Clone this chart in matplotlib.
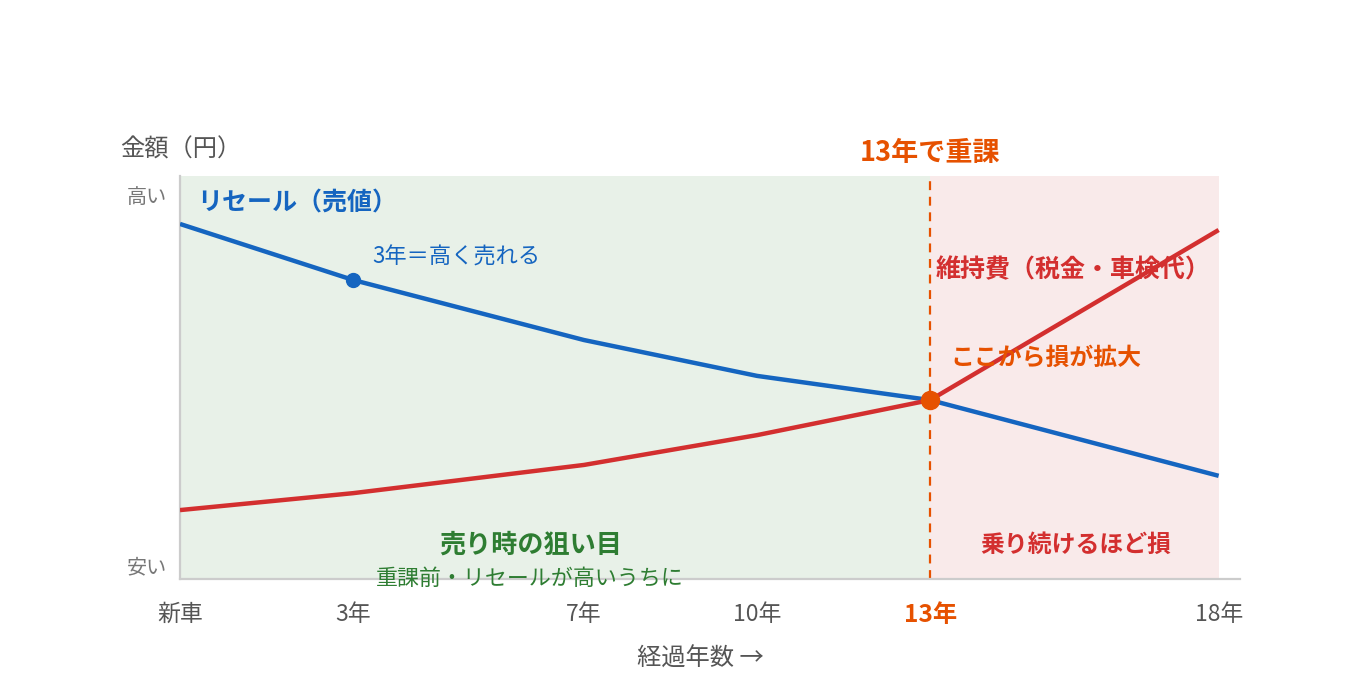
import matplotlib
matplotlib.use("Agg")
import matplotlib.pyplot as plt

plt.rcParams['font.family'] = ['Noto Sans CJK JP', 'DejaVu Sans']

# data (relative amount, 0 = low, 100 = high)
years = [0, 3, 7, 10, 13, 18]
resale = [88.1, 74.2, 59.3, 50.4, 44.4, 25.6]
upkeep = [17.1, 21.3, 28.3, 35.7, 44.4, 86.6]
tick_labels = ['新車', '3年', '7年', '10年', '13年', '18年']
tax_year = 13

BLUE = '#1565c0'
RED = '#d32f2f'
ORANGE = '#e65100'
GREEN = '#2e7d32'
GRAY = '#555555'

fig = plt.figure(figsize=(13.6, 7), dpi=100)
ax = fig.add_axes([180 / 1360, 121 / 700, 1060 / 1360, 403 / 700])
ax.set_xlim(0, 18.37)
ax.set_ylim(0, 100)

# background zones
ax.axvspan(0, tax_year, color='#e8f1e8', zorder=0, lw=0)
ax.axvspan(tax_year, 18, color='#f9eaea', zorder=0, lw=0)
ax.axvline(tax_year, color=ORANGE, lw=1.6, ls=(0, (4, 3)), zorder=1)

# lines
ax.plot(years, resale, color=BLUE, lw=3.2, solid_capstyle='butt', zorder=3)
ax.plot(years, upkeep, color=RED, lw=3.2, solid_capstyle='butt', zorder=4)
ax.plot(years[1], resale[1], 'o', color=BLUE, ms=10, zorder=5)
ax.plot(years[4], resale[4], 'o', color=ORANGE, ms=13, zorder=6)

# spines
for s in ['top', 'right']:
    ax.spines[s].set_visible(False)
for s in ['left', 'bottom']:
    ax.spines[s].set_color('#cccccc')
    ax.spines[s].set_linewidth(1.6)
    ax.spines[s].set_zorder(2)

# ticks
ax.set_xticks(years)
ax.set_xticklabels(tick_labels, fontsize=16.5, color=GRAY)
ax.tick_params(axis='x', length=0, pad=17)
lbl = ax.get_xticklabels()[4]
lbl.set_color(ORANGE)
lbl.set_fontweight('bold')
lbl.set_fontsize(17.5)
ax.set_yticks([95.3, 3.5])
ax.set_yticklabels(['高い', '安い'], fontsize=14.5, color='#777777')
ax.tick_params(axis='y', length=0, pad=9)

# annotations
ax.text(0.29, 93.1, 'リセール（売値）', color=BLUE, fontsize=18, fontweight='bold',
        ha='left', va='center', zorder=7)
ax.text(3.33, 80.0, '3年＝高く売れる', color=BLUE, fontsize=16, ha='left', va='center', zorder=7)
ax.text(13.09, 76.8, '維持費（税金・車検代）', color=RED, fontsize=18, fontweight='bold',
        ha='left', va='center', zorder=2)
ax.text(13.35, 55.0, 'ここから損が拡大', color=ORANGE, fontsize=17.2, fontweight='bold',
        ha='left', va='center', zorder=7)
ax.text(6.07, 8.5, '売り時の狙い目', color=GREEN, fontsize=18.8, fontweight='bold',
        ha='center', va='center', zorder=7)
ax.text(6.07, -0.1, '重課前・リセールが高いうちに', color=GREEN, fontsize=15.8,
        ha='center', va='center', zorder=7, clip_on=False)
ax.text(15.53, 8.5, '乗り続けるほど損', color=RED, fontsize=17.2, fontweight='bold',
        ha='center', va='center', zorder=7)
ax.text(tax_year, 105.8, '13年で重課', color=ORANGE, fontsize=19.5, fontweight='bold',
        ha='center', va='center', clip_on=False)

fig.text(120 / 1360, 1 - 150 / 700, '金額（円）', color=GRAY, fontsize=17.5, ha='left', va='center')
fig.text(700 / 1360, 1 - 659 / 700, '経過年数 →', color=GRAY, fontsize=17.5, ha='center', va='center')

fig.savefig('out.png', dpi=100, facecolor='white')
